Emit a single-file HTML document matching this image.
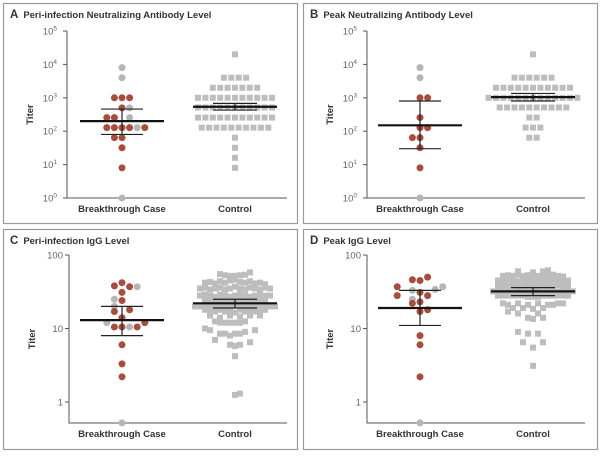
<!DOCTYPE html>
<html><head><meta charset="utf-8"><style>
body{margin:0;background:#fff;width:600px;height:452px;overflow:hidden;font-family:"Liberation Sans",sans-serif}
svg text{font-family:"Liberation Sans",sans-serif}
</style></head><body>
<svg id="c" width="600" height="452"></svg>
<script>
const ticksNeut=[0,1,2,3,4,5];
const ticksIgg=[0,1,2];
const groupLabels=["Breakthrough Case","Control"];
// case points: [value, column, isRed]
const caseA=[[8000,0,0],[4000,0,0],[1000,-1,1],[1000,0,1],[1000,1,1],[500,0,1],[500,1,0],[256,-2,1],[256,-1,1],[256,1,0],[128,-2,1],[128,-1,1],[128,0,1],[128,1,1],[128,2,0],[128,3,1],[64,-1,1],[64,0,1],[32,0,1],[8,0,1],[1,0,0]];
const ctrlA=[[20000,0],[4000,-1.5],[4000,-0.5],[4000,0.5],[4000,1.5],[2000,-3],[2000,-2],[2000,-1],[2000,0],[2000,1],[2000,2],[2000,3],
[1000,-5],[1000,-4],[1000,-3],[1000,-2],[1000,-1],[1000,0],[1000,1],[1000,2],[1000,3],[1000,4],[1000,5],
[512,-5],[512,-4],[512,-3],[512,-2],[512,-1],[512,0],[512,1],[512,2],[512,3],[512,4],[512,5],
[256,-5],[256,-4],[256,-3],[256,-2],[256,-1],[256,0],[256,1],[256,2],[256,3],[256,4],[256,5],
[128,-4.5],[128,-3.5],[128,-2.5],[128,-1.5],[128,-0.5],[128,0.5],[128,1.5],[128,2.5],[128,3.5],[128,4.5],
[64,0],[32,0],[16,0],[8,0]];
const caseB=[[8000,0,0],[4000,0,0],[1000,0,1],[1000,1,1],[256,0,1],[128,0,1],[128,1,1],[64,-1,1],[64,0,1],[32,0,1],[8,0,1],[1,0,0]];
const ctrlB=[[20000,0],[4000,-2.5],[4000,-1.5],[4000,-0.5],[4000,0.5],[4000,1.5],[4000,2.5],
[2000,-5],[2000,-4],[2000,-3],[2000,-2],[2000,-1],[2000,0],[2000,1],[2000,2],[2000,3],[2000,4],[2000,5],
[1000,-6],[1000,-5],[1000,-4],[1000,-3],[1000,-2],[1000,-1],[1000,0],[1000,1],[1000,2],[1000,3],[1000,4],[1000,5],[1000,6],
[512,-4.5],[512,-3.5],[512,-2.5],[512,-1.5],[512,-0.5],[512,0.5],[512,1.5],[512,2.5],[512,3.5],[512,4.5],
[256,-0.5],[256,0.5],[128,-1],[128,0],[128,1],[64,-0.5],[64,0.5]];
const caseC=[[38,-1,1],[42,0,1],[37,1,1],[37,2,0],[31,0,1],[25,-1,0],[24,0,1],[20,-1,0],[18,1,1],[17,-1,1],[14,0,1],[12,-2,0],[12,3,1],[10.5,-1,1],[10.5,0,1],[10.5,1,0],[10.5,2,1],[6,0,1],[3.3,0,1],[2.2,0,1],[0.52,0,0]];
const ctrlC=[[58,3],[55,-3],[53,-2],[52,-1],[52,0],[53,1],[54,2],
[42,-6],[43,-5],[41,-4],[44,-3],[42,-2],[45,-1],[46,0],[43,1],[42,2],[44,3],[41,4],[42,5],[40,6],
[35,-7],[36,-6],[34,-5],[35,-4],[36,-3],[34,-2],[35,-1],[37,0],[35,1],[34,2],[36,3],[35,4],[34,5],[36,6],[35,7],
[28,-7],[29,-6],[28,-5],[27,-4],[29,-3],[28,-2],[27,-1],[28,0],[29,1],[28,2],[27,3],[28,4],[29,5],[28,6],[28,7],
[24,-6],[24,-5],[24,-4],[24,-3],[24,-2],[24,-1],[24,0],[24,1],[24,2],[24,3],[24,4],[24,5],[24,6],
[20,-8],[20,-7],[21,-6],[20,-5],[21,-4],[20,-3],[21,-2],[20,-1],[21,0],[20,1],[21,2],[20,3],[21,4],[20,5],[21,6],[20,7],[20,8],
[18,-6],[18,-5],[17,-4],[18,-3],[17,-2],[18,-1],[16.5,0],[18,1],[17,2],[18,3],[17,4],[18,5],[18,6],
[15,-5],[14,-3],[15,-1],[14.5,1],[15,3],[15,5],
[12.5,-4],[12,-3],[12,-2],[12,-1],[12,0],[12,1],[12.5,2],[10,-6],[9.5,-5],[9.5,4],
[8.5,-3],[8.5,-2],[8,-1],[8.5,0],[8.5,1],[9,2],[7,-4],[6.5,3],[6,-1],[5.8,0],[6,1],[4.2,0],[1.25,0],[1.3,1]];
const caseD=[[50,1,1],[46,-1,1],[45,0,1],[37,-3,1],[37,3,0],[34,2,0],[33,-1,0],[31,0,1],[28,-3,1],[28,1,1],[25,-1,0],[22,-1,1],[23,0,1],[18,1,1],[17,0,1],[8,0,1],[6,0,1],[2.2,0,1],[0.52,0,0]];
const ctrlD=[[60,-3],[58,0],[60,2],[62,3],
[52,-6],[53,-5],[52,-4],[54,-3],[52,-2],[53,-1],[54,0],[52,1],[53,2],[52,3],[54,4],[52,5],[51,6],
[45,-7],[45,-6],[46,-5],[45,-4],[44,-3],[46,-2],[45,-1],[45,0],[46,1],[45,2],[44,3],[46,4],[45,5],[45,6],[45,7],
[38,-7],[38,-6],[38,-5],[39,-4],[38,-3],[38,-2],[39,-1],[38,0],[38,1],[39,2],[38,3],[38,4],[39,5],[38,6],[38,7],
[32,-8],[32,-7],[32,-6],[32,-5],[32,-4],[32,-3],[32,-2],[32,-1],[32,0],[32,1],[32,2],[32,3],[32,4],[32,5],[32,6],[32,7],[32,8],
[28,-7],[28,-6],[28,-5],[28,-4],[28,-3],[28,-2],[27,-1],[27,0],[27,1],[28,2],[28,3],[28,4],[28,5],[28,6],[28,7],
[22,-6],[21,-5],[22,-3],[21,-1],[22,1],[21,3],[21,4],[22,5],[22,6],
[19,-4],[19,-2],[18.5,0],[19,2],[17,-5],[16,-3],[16,1],[14,-1],[13.5,0],[14,2],
[9,-3],[8.5,-1],[8.5,1],[6.5,-2],[6.5,2],[5.5,0],[3.1,0]];
// summary stats: [mean, lo, hi]
const statsA=[[200,80,460],[540,430,680]];
const statsB=[[150,30,800],[1050,800,1350]];
const statsC=[[13,8,20],[22,19,25]];
const statsD=[[19,11,33],[32,28,36]];

const svg=document.getElementById('c');
const NS='http://www.w3.org/2000/svg';
function mk(tag,attrs,parent){const e=document.createElementNS(NS,tag);for(const k in attrs)e.setAttribute(k,attrs[k]);(parent||svg).appendChild(e);return e;}

const panels=[
 {id:'a',letter:'A',title:'Peri-infection Neutralizing Antibody Level',bx:3,by:3,ax:67,top:31,bot:198,lmax:5,lmin:0,axBot:198,xEnd:287,c1:122,c2:235,kind:'n',cs:caseA,ct:ctrlA,st:statsA,col:7.4},
 {id:'b',letter:'B',title:'Peak Neutralizing Antibody Level',bx:303,by:3,ax:367,top:31,bot:198,lmax:5,lmin:0,axBot:198,xEnd:585,c1:420,c2:533,kind:'n',cs:caseB,ct:ctrlB,st:statsB,col:7.4},
 {id:'c',letter:'C',title:'Peri-infection IgG Level',bx:3,by:229,ax:69,top:255,bot:402,lmax:2,lmin:0,axBot:423,xEnd:287,c1:122,c2:235,kind:'g',cs:caseC,ct:ctrlC,st:statsC,col:5},
 {id:'d',letter:'D',title:'Peak IgG Level',bx:303,by:229,ax:367,top:255,bot:402,lmax:2,lmin:0,axBot:423,xEnd:585,c1:420,c2:533,kind:'g',cs:caseD,ct:ctrlD,st:statsD,col:5}
];
const COL=7.6;
panels.forEach(p=>{
 const g=mk('g',{});
 
 
 const y=v=>p.bot-(Math.log10(v)-p.lmin)/(p.lmax-p.lmin)*(p.bot-p.top);
 const r=mk('rect',{x:p.bx+0.5,y:p.by+0.5,width:294,height:220,fill:'none',stroke:'#9a9a9a','stroke-width':1.2},g);
 
 
 const t=mk('text',{x:p.bx+7,y:p.by+15,'font-size':9.5,'font-weight':'bold',fill:'#333'},g);
 
 
 t.innerHTML='<tspan font-size="11.5">'+p.letter+'</tspan><tspan dx="5">'+p.title+'</tspan>';
 const yl=mk('text',{x:0,y:0,'font-size':9.5,'font-weight':'bold',fill:'#333','text-anchor':'middle',transform:`translate(${p.ax-34},${(p.top+p.axBot)/2}) rotate(-90)`},g);
 
 
 yl.textContent='Titer';
 const axis=mk('path',{d:`M${p.ax},${p.top}V${p.axBot}H${p.xEnd}`,fill:'none',stroke:'#555','stroke-width':1},g);
 
 
 const ticks=p.kind==='n'?ticksNeut:ticksIgg;
 ticks.forEach(k=>{
  const yy=y(Math.pow(10,k));
  mk('line',{x1:p.ax-4,x2:p.ax,y1:yy,y2:yy,stroke:'#555'},g);
  const tl=mk('text',{x:p.ax-6,y:yy+3.5,'font-size':9.5,fill:'#666','text-anchor':'end'},g);
  
  
  if(p.kind==='n'){tl.setAttribute('x',p.ax-10);tl.innerHTML='10<tspan font-size="6.5" dy="-4">'+k+'</tspan>';}
  else tl.textContent=String(Math.pow(10,k));
 });
 [p.c1,p.c2].forEach((cx,i)=>{
  const xl=mk('text',{x:cx,y:p.axBot+14,'font-size':9.5,'font-weight':'bold',fill:'#333','text-anchor':'middle'},g);
  
  
  xl.textContent=groupLabels[i];
 });
 p.ct.forEach(d=>{
  const s=mk('rect',{x:p.c2+d[1]*p.col-3,y:y(d[0])-3,width:6,height:6,fill:'#bdbdbd'},g);
  
  
 });
 p.cs.forEach(d=>{
  const c=mk('circle',{cx:p.c1+d[1]*COL,cy:y(d[0]),r:3.5,fill:d[2]?'#a84d3e':'#b5b5b5'},g);
  
  
 });
 [[p.c1,42,21],[p.c2,42,22]].forEach((o,i)=>{
  const s=p.st[i];const cx=o[0];
  mk('line',{x1:cx,x2:cx,y1:y(s[1]),y2:y(s[2]),stroke:'#222','stroke-width':1.2},g);
  mk('line',{x1:cx-o[2],x2:cx+o[2],y1:y(s[1]),y2:y(s[1]),stroke:'#222','stroke-width':1.2},g);
  mk('line',{x1:cx-o[2],x2:cx+o[2],y1:y(s[2]),y2:y(s[2]),stroke:'#222','stroke-width':1.2},g);
  const m=mk('line',{x1:cx-o[1],x2:cx+o[1],y1:y(s[0]),y2:y(s[0]),stroke:'#111','stroke-width':2.2},g);
  
  
 });
});
</script>
</body></html>
